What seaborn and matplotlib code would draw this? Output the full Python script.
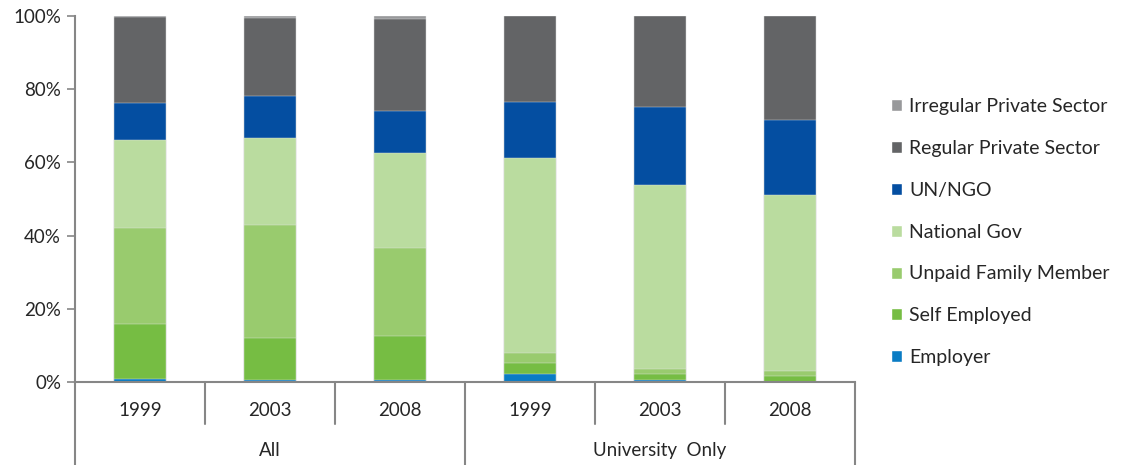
import pandas as pd
import matplotlib.pyplot as plt
import seaborn as sns
from matplotlib.patches import Patch

# categories (group, year)
groups = ['All', 'All', 'All', 'University  Only', 'University  Only', 'University  Only']
years = ['1999', '2003', '2008', '1999', '2003', '2008']

# segment shares in % (bottom -> top)
employer = [0.8, 0.5, 0.5, 2.2, 0.5, 0.0]
self_employed = [15.1, 11.6, 12.2, 3.1, 1.8, 1.6]
unpaid_family = [26.1, 30.9, 24.0, 2.7, 1.3, 1.5]
national_gov = [24.0, 23.7, 25.8, 53.2, 50.2, 48.0]
un_ngo = [10.1, 11.5, 11.6, 15.2, 21.2, 20.6]
regular_private = [23.5, 21.3, 25.2, 23.6, 25.0, 28.3]
irregular_private = [0.4, 0.5, 0.7, 0.0, 0.0, 0.0]

series = ['Employer', 'Self Employed', 'Unpaid Family Member', 'National Gov',
          'UN/NGO', 'Regular Private Sector', 'Irregular Private Sector']
colors = ['#0a7cc4', '#76bd43', '#99cb6e', '#badc9f', '#044ea1', '#636466', '#98999b']

keys = [g + ' ' + y for g, y in zip(groups, years)]
df = pd.DataFrame({
    'Employer': employer,
    'Self Employed': self_employed,
    'Unpaid Family Member': unpaid_family,
    'National Gov': national_gov,
    'UN/NGO': un_ngo,
    'Regular Private Sector': regular_private,
    'Irregular Private Sector': irregular_private,
}, index=keys)
cum = df[series].cumsum(axis=1)

sns.set_style('white')
plt.rcParams['font.family'] = ['Lato', 'DejaVu Sans']

fig = plt.figure(figsize=(11.27, 4.65), dpi=100)
ax = fig.add_axes([75 / 1127, 83 / 465, 780 / 1127, 366 / 465])

# stacked bars: draw cumulative totals from the top layer down
for name, col in zip(series[::-1], colors[::-1]):
    sns.barplot(x=keys, y=cum[name].values, order=keys, color=col, width=0.4,
                saturation=1, edgecolor='#e4e4e4', linewidth=0.3, ax=ax)

ax.set_xlim(-0.5, 5.5)
ax.set_ylim(0, 100)
ax.set_yticks([0, 20, 40, 60, 80, 100])
ax.set_yticklabels(['0%', '20%', '40%', '60%', '80%', '100%'], fontsize=13.5)
ax.set_xticks([])
ax.set_xlabel('')
ax.tick_params(axis='y', left=True, length=6, width=1.2, color='#868686', pad=4)
for s in ['top', 'right']:
    ax.spines[s].set_visible(False)
for s in ['left', 'bottom']:
    ax.spines[s].set_color('#868686')
    ax.spines[s].set_linewidth(1.5)

# hierarchical category axis
tr = ax.get_xaxis_transform()
for i, y in enumerate(years):
    ax.text(i, -0.077, y, transform=tr, ha='center', va='center', fontsize=13.5)
for x in [0.5, 1.5, 3.5, 4.5]:
    ax.plot([x, x], [0, -0.115], transform=tr, color='#868686', lw=1.5, clip_on=False)
for x in [-0.5, 2.5, 5.5]:
    ax.plot([x, x], [0, -0.23], transform=tr, color='#868686', lw=1.5, clip_on=False)
ax.text(1, -0.186, 'All', transform=tr, ha='center', va='center', fontsize=13.5)
ax.text(4, -0.186, 'University  Only', transform=tr, ha='center', va='center', fontsize=13.5)

handles = [Patch(facecolor=c, label=n) for n, c in zip(series[::-1], colors[::-1])]
fig.legend(handles=handles, loc='center left', bbox_to_anchor=(873 / 1127, 1 - 232 / 465),
           frameon=False, fontsize=14, handlelength=0.57, handleheight=0.57,
           handletextpad=0.4, labelspacing=1.28)

fig.savefig('out.png', dpi=100)
